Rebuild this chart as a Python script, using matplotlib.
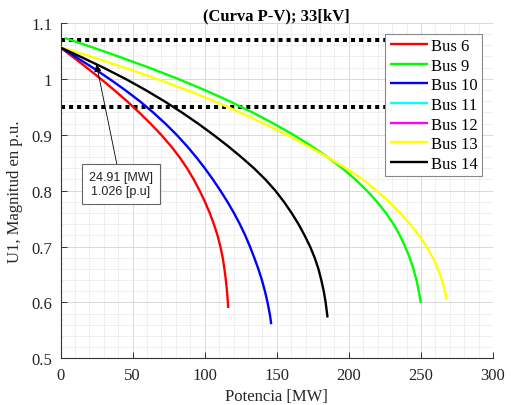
import matplotlib
matplotlib.use("Agg")
import matplotlib.pyplot as plt
from matplotlib.ticker import MultipleLocator

plt.rcParams['font.family'] = ['Liberation Serif', 'DejaVu Serif']

# ---- data (P in MW, V in p.u.) ----
bus6_p = [0, 8.2, 18.2, 27.9, 37.2, 46.1, 54.5, 62.4, 69.8, 76.5, 82.5, 87.8, 92.4, 96.5, 100.2, 103.5,
          106.4, 108.9, 110.9, 112.5, 113.7, 114.7, 115.5, 116.1, 116.3]
bus6_v = [1.056, 1.04, 1.02, 1.00, 0.98, 0.96, 0.94, 0.92, 0.90, 0.88, 0.86, 0.84, 0.82, 0.80, 0.78, 0.76,
          0.74, 0.72, 0.70, 0.68, 0.66, 0.64, 0.62, 0.60, 0.59]

bus9_p = [3, 18.0, 40.2, 61.4, 81.4, 100.0, 117.2, 133.1, 147.8, 161.4, 173.9, 185.3, 195.5, 204.5, 212.5,
          219.6, 225.7, 231.0, 235.4, 239.0, 242.2, 244.8, 246.9, 248.5, 250.0]
bus9_v = [1.073, 1.06, 1.04, 1.02, 1.00, 0.98, 0.96, 0.94, 0.92, 0.90, 0.88, 0.86, 0.84, 0.82, 0.80,
          0.78, 0.76, 0.74, 0.72, 0.70, 0.68, 0.66, 0.64, 0.62, 0.599]

bus10_p = [0, 10.1, 22.3, 33.9, 44.8, 55.0, 64.2, 72.7, 80.5, 87.6, 94.1, 100.1, 105.7, 110.9, 115.8, 120.3,
           124.4, 128.1, 131.4, 134.4, 137.2, 139.7, 141.8, 143.6, 145.1, 145.7, 146.15]
bus10_v = [1.056, 1.04, 1.02, 1.00, 0.98, 0.96, 0.94, 0.92, 0.90, 0.88, 0.86, 0.84, 0.82, 0.80, 0.78, 0.76,
           0.74, 0.72, 0.70, 0.68, 0.66, 0.64, 0.62, 0.60, 0.58, 0.57, 0.561]

bus11_p, bus11_v = [], []
bus12_p, bus12_v = [], []

bus13_p = [0, 20.9, 44.5, 66.7, 87.5, 106.7, 124.5, 141.1, 156.7, 171.4, 185.2, 198.0, 209.7, 219.3, 227.9,
           235.6, 242.5, 248.6, 253.9, 258.2, 261.7, 264.5, 266.7, 267.7]
bus13_v = [1.057, 1.04, 1.02, 1.00, 0.98, 0.96, 0.94, 0.92, 0.90, 0.88, 0.86, 0.84, 0.82, 0.80, 0.78,
           0.76, 0.74, 0.72, 0.70, 0.68, 0.66, 0.64, 0.62, 0.605]

bus14_p = [0, 13.6, 29.8, 45.0, 59.0, 72.0, 84.1, 95.4, 106.0, 116.0, 125.4, 134.2, 142.1, 149.0, 155.0,
           160.3, 165.1, 169.3, 173.1, 176.3, 178.9, 180.9, 182.6, 183.9, 184.9, 185.2]
bus14_v = [1.056, 1.04, 1.02, 1.00, 0.98, 0.96, 0.94, 0.92, 0.90, 0.88, 0.86, 0.84, 0.82, 0.80, 0.78,
           0.76, 0.74, 0.72, 0.70, 0.68, 0.66, 0.64, 0.62, 0.60, 0.58, 0.573]

limits_v = [1.07, 0.95]
limits_p = [0, 280]

tip_p, tip_v = 24.91, 1.026
tip_text = "24.91 [MW]\n1.026 [p.u]"

series = [
    ("Bus 6", bus6_p, bus6_v, "#ff0000"),
    ("Bus 9", bus9_p, bus9_v, "#00ff00"),
    ("Bus 10", bus10_p, bus10_v, "#0000ff"),
    ("Bus 11", bus11_p, bus11_v, "#00ffff"),
    ("Bus 12", bus12_p, bus12_v, "#ff00ff"),
    ("Bus 13", bus13_p, bus13_v, "#ffff00"),
    ("Bus 14", bus14_p, bus14_v, "#000000"),
]

fig = plt.figure(figsize=(5.11, 4.06), dpi=100)
ax = fig.add_axes([0.1184, 0.115, 0.8464, 0.826])

for lv in limits_v:
    ax.plot(limits_p, [lv, lv], color='black', lw=2.9, linestyle=(0, (1, 1)),
            solid_capstyle='butt', dash_capstyle='butt', zorder=2)

for name, p, v, c in series:
    ax.plot(p, v, color=c, lw=1.7, label=name, zorder=3,
            solid_joinstyle='round', solid_capstyle='butt')

ax.set_xlim(0, 300)
ax.set_ylim(0.5, 1.1)
ax.xaxis.set_major_locator(MultipleLocator(50))
ax.xaxis.set_minor_locator(MultipleLocator(10))
ax.yaxis.set_major_locator(MultipleLocator(0.1))
ax.yaxis.set_minor_locator(MultipleLocator(0.02))
ax.set_yticks([0.5, 0.6, 0.7, 0.8, 0.9, 1.0, 1.1])
ax.set_yticklabels(["0.5", "0.6", "0.7", "0.8", "0.9", "1", "1.1"])

ax.grid(which='major', color='#d9d9d9', lw=0.7, zorder=0)
ax.grid(which='minor', color='#ececec', lw=0.6, zorder=0)
ax.set_axisbelow(True)

for s in ['top', 'right']:
    ax.spines[s].set_visible(False)
for s in ['left', 'bottom']:
    ax.spines[s].set_color('#333333')
    ax.spines[s].set_linewidth(0.8)
ax.tick_params(which='major', direction='in', length=4, width=0.7, colors='#333333',
               labelsize=12, labelcolor='#262626', pad=6)
ax.tick_params(which='minor', length=0)

ax.set_xlabel("Potencia [MW]", fontsize=12, color='#262626', labelpad=4)
ax.set_ylabel("U1, Magnitud en p.u.", fontsize=12, color='#262626', labelpad=6)
ax.set_title("(Curva P-V); 33[kV]", fontsize=12, fontweight='bold', pad=2)

leg = ax.legend(loc='upper right', fontsize=12, frameon=True, fancybox=False,
                edgecolor='#888888', framealpha=1, borderaxespad=0.65,
                handlelength=2.3, handletextpad=0.2, labelspacing=0.22,
                borderpad=0.25)
leg.get_frame().set_linewidth(0.8)

ax.annotate(tip_text, xy=(tip_p, tip_v), xytext=(41.9, 0.812),
            ha='center', va='center', fontsize=9, family=['Liberation Sans', 'DejaVu Sans'],
            color='#222222',
            bbox=dict(boxstyle='square,pad=0.55', fc='white', ec='#666666', lw=0.8),
            arrowprops=dict(arrowstyle='-|>', color='black', lw=0.6, mutation_scale=11,
                            shrinkA=0, shrinkB=0),
            zorder=5)

fig.savefig("out.png", dpi=100)
